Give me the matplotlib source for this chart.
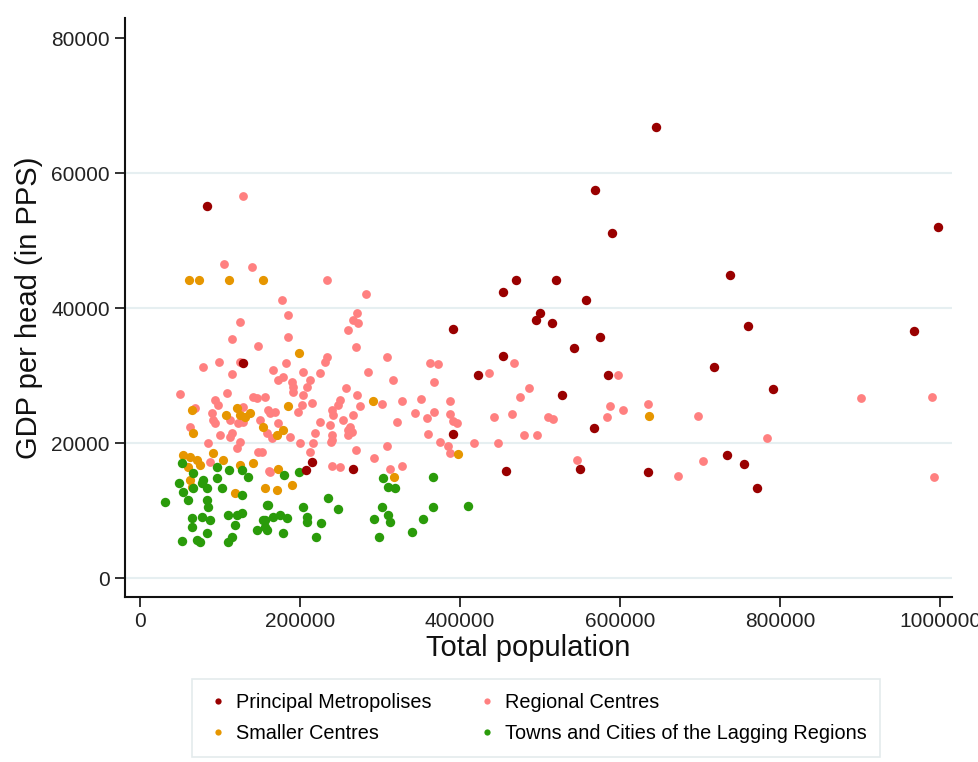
import matplotlib
matplotlib.use("Agg")
import matplotlib.pyplot as plt
import numpy as np
from matplotlib.lines import Line2D

plt.rcParams['font.family'] = ['Liberation Sans', 'DejaVu Sans']

# Principal Metropolises (population, GDP per head)
metro_pop = [83750, 645000, 568750, 590000, 997500, 737500, 470000, 520000, 453750,
             557500, 500000, 495000, 515000, 575000, 542500, 453750, 791250, 760000,
             967500, 717500, 585000, 527500, 567500, 457500, 550000, 635000, 733750,
             755000, 771250, 391250, 422500, 391250, 266250, 207500, 215000, 128750]
metro_gdp = [55100, 66800, 57500, 51100, 52000, 44900, 44100, 44100, 42400,
             41200, 39300, 38200, 37800, 35700, 34100, 32900, 28000, 37300,
             36600, 31300, 30100, 27100, 22200, 15900, 16100, 15700, 18200,
             16900, 13300, 36900, 30100, 21300, 16100, 16000, 17200, 31850]

# Regional Centres
reg_pop = [128750, 105000, 140000, 233750, 177500, 185000, 125000, 185000, 115000, 147500,
           78750, 98750, 125000, 182500, 115000, 166250, 203750, 225000, 178750,
           50000, 93750, 97500, 108750, 141250, 146250, 156250, 90000, 91250, 93750,
           68750, 62500, 112500, 100000, 115000, 150000, 160000, 128750,
           282500, 271250, 266250, 272500, 260000, 270000, 233750, 231250, 308750,
           285000, 172500, 190000, 191250, 212500, 208750, 257500, 271250, 191250,
           203750, 202500, 215000, 250000, 247500, 275000, 302500, 162500, 168750,
           197500, 240000, 241250, 266250, 172500, 225000, 253750, 262500, 265000,
           237500, 218750, 240000, 260000, 316250,
           362500, 372500, 367500, 327500, 351250, 387500, 321250, 343750, 367500,
           358750, 387500, 391250, 396250, 442500, 465000, 240000, 270000, 308750,
           292500, 360000, 375000, 385000, 387500, 417500, 447500, 240000, 250000,
           327500, 312500,
           467500, 436250, 486250, 475000, 510000, 516250, 480000, 496250, 546250,
           597500, 587500, 583750, 603750, 635000, 697500, 672500, 703750,
           901250, 990000, 783750, 992500,
           85000, 87500, 121250, 125000, 147500, 162500, 112500, 122500, 128750,
           158750, 165000, 187500, 200000, 216250, 238750, 212500, 260000, 161250, 152500]
reg_gdp = [56600, 46500, 46100, 44150, 41200, 38960, 37930, 35700, 35410, 34370,
           31260, 32000, 32000, 31850, 30220, 30820, 30520, 30370, 29780,
           27260, 26370, 25630, 27410, 26820, 26670, 26820, 24440, 23410, 22960,
           25190, 22370, 23410, 21190, 21480, 23410, 24890, 25330,
           42070, 39260, 38220, 37780, 36740, 34220, 32740, 32000, 32740,
           30520, 29330, 29040, 28300, 29330, 28300, 28150, 27110, 27560,
           27110, 25630, 25930, 26370, 25630, 25480, 25780, 24440, 24590,
           24590, 24890, 24150, 24150, 22960, 23110, 23410, 22370, 21630,
           22670, 21480, 21190, 21190, 29330,
           31850, 31700, 29040, 26220, 26520, 26220, 23110, 24440, 24590,
           23700, 24300, 23260, 22960, 23850, 24300, 20440, 18960, 19560,
           17780, 21330, 20150, 19560, 18520, 20000, 20000, 16590, 16440,
           16590, 16150,
           31850, 30370, 28150, 26820, 23850, 23560, 21190, 21190, 17480,
           30070, 25480, 23850, 24890, 25780, 24000, 15110, 17330,
           26670, 26820, 20740, 14960,
           20000, 17190, 19260, 20150, 18670, 15700, 20890, 22960, 23110,
           21480, 20740, 20890, 20000, 20000, 20150, 18670, 21930, 15850, 18670]

# Smaller Centres
small_pop = [61250, 73750, 111250, 153750, 198750, 65000, 66250, 107500, 121250, 125000,
             131250, 137500, 153750, 185000, 291250, 171250, 178750, 53750, 62500, 71250,
             75000, 60000, 91250, 103750, 125000, 141250, 156250, 118750, 65000, 62500,
             172500, 171250, 190000, 317500, 397500, 636250]
small_gdp = [44150, 44150, 44150, 44150, 33330, 24890, 21480, 24150, 25190, 24150,
             23850, 24440, 22370, 25480, 26220, 21190, 21930, 18220, 17930, 17480,
             16740, 16440, 18520, 17480, 16740, 17040, 13330, 12590, 13480, 14520,
             16150, 13040, 13780, 14960, 18370, 24000]

# Towns and Cities of the Lagging Regions
town_pop = [52500, 66250, 78750, 96250, 111250, 127500, 135000, 48750, 53750, 60000,
            31250, 77500, 83750, 96250, 102500, 66250, 127500, 83750, 85000, 65000,
            77500, 87500, 110000, 121250, 127500, 118750, 65000, 83750, 71250, 75000,
            52500, 110000, 115000, 146250, 158750, 156250, 158750, 180000, 198750, 160000,
            166250, 175000, 183750, 153750, 156250, 178750, 203750, 208750, 208750, 226250,
            220000, 235000, 247500, 303750, 310000, 318750, 302500, 292500, 310000, 312500,
            298750, 340000, 353750, 366250, 366250, 410000]
town_gdp = [17000, 15560, 14520, 16440, 16000, 16000, 14960, 14070, 12740, 11560,
            11260, 14070, 13330, 14820, 13330, 13330, 12300, 11560, 10520, 8890,
            9040, 8590, 9330, 9330, 9630, 7850, 7560, 6670, 5630, 5330,
            5480, 5330, 6070, 7110, 7110, 8590, 10810, 15260, 15700, 10810,
            9040, 9330, 8890, 8590, 7560, 6670, 10520, 9040, 8300, 8150,
            6070, 11850, 10220, 14820, 13480, 13330, 10520, 8740, 9330, 8300,
            6070, 6810, 8740, 10520, 14960, 10670]

labels = ["Principal Metropolises", "Regional Centres", "Smaller Centres",
          "Towns and Cities of the Lagging Regions"]
colors = ["#990000", "#ff8080", "#e69600", "#2a9b0a"]

fig = plt.figure(figsize=(9.79, 7.62), dpi=100)
ax = fig.add_axes([0.1277, 0.2165, 0.8447, 0.7598])

ax.scatter(reg_pop, reg_gdp, s=40, color=colors[1], linewidths=0, zorder=3)
ax.scatter(small_pop, small_gdp, s=44, color=colors[2], linewidths=0, zorder=3)
ax.scatter(town_pop, town_gdp, s=46, color=colors[3], linewidths=0, zorder=3)
ax.scatter(metro_pop, metro_gdp, s=46, color=colors[0], linewidths=0, zorder=4)

ax.set_xlim(-18750, 1015000)
ax.set_ylim(-2815, 82963)
ax.set_xticks([0, 200000, 400000, 600000, 800000, 1000000])
ax.set_yticks([0, 20000, 40000, 60000, 80000])
ax.set_xticklabels(["0", "200000", "400000", "600000", "800000", "1000000"])
ax.set_yticklabels(["0", "20000", "40000", "60000", "80000"])
ax.tick_params(axis='both', direction='out', length=7, width=1.3, labelsize=15,
               colors='#222222', pad=4)

ax.yaxis.grid(True, color='#e6eff1', linewidth=1.5)
ax.get_ygridlines()[-1].set_visible(False)
ax.set_axisbelow(True)

for side in ['top', 'right']:
    ax.spines[side].set_visible(False)
for side in ['left', 'bottom']:
    ax.spines[side].set_linewidth(1.5)
    ax.spines[side].set_color('#111111')

ax.set_xlabel("Total population", fontsize=21, color='#111111')
ax.xaxis.set_label_coords(0.487, -0.064)
ax.set_ylabel("GDP per head (in PPS)", fontsize=21, labelpad=6, color='#111111')

order = [0, 2, 1, 3]
handles = [Line2D([], [], marker='o', linestyle='', color=colors[i], markersize=4.5,
                  markeredgewidth=0, label=labels[i]) for i in order]
leg = fig.legend(handles=handles, ncol=2, loc='center',
                 bbox_to_anchor=(536 / 979, 1 - 718 / 762), fontsize=14.3,
                 frameon=True, fancybox=False, edgecolor='#dde6e8',
                 handletextpad=0.3, columnspacing=2.2, labelspacing=0.6,
                 borderpad=0.7, handlelength=1.2)
leg.get_frame().set_linewidth(1.2)

fig.savefig("out.png", dpi=100)
